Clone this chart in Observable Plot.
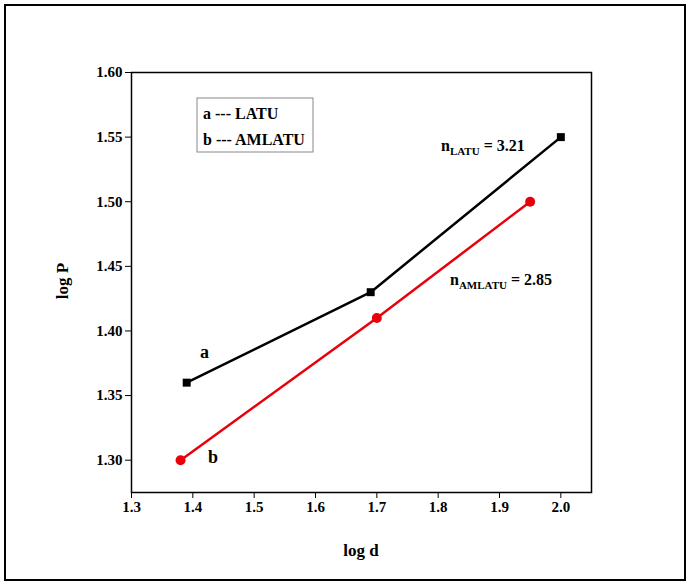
<!DOCTYPE html>
<html><head>
<script src="https://cdn.jsdelivr.net/npm/d3@7"></script>
<script src="https://cdn.jsdelivr.net/npm/@observablehq/plot@0.6"></script>
<style>body{margin:0;background:#fff}</style>
</head><body>
<div id="c"></div>
<script>
const logdA = [1.39, 1.69, 2.0];
const logPA = [1.36, 1.43, 1.55];
const logdB = [1.38, 1.70, 1.95];
const logPB = [1.30, 1.41, 1.50];
const xTicks = [1.3,1.4,1.5,1.6,1.7,1.8,1.9,2.0];
const yTicks = [1.30,1.35,1.40,1.45,1.50,1.55,1.60];

const A = logdA.map((d,i)=>({x:d,y:logPA[i]}));
const B = logdB.map((d,i)=>({x:d,y:logPB[i]}));
const font = "Liberation Serif";
const plot = Plot.plot({
  width:690, height:586,
  marginLeft:131, marginRight:99, marginTop:72, marginBottom:94,
  style:{fontFamily:font, fontSize:"15px", fontWeight:"bold", color:"#000"},
  x:{domain:[1.3,2.05], ticks:xTicks, tickFormat:d=>d.toFixed(1), label:null, tickSize:6},
  y:{domain:[1.275,1.60], ticks:yTicks, tickFormat:d=>d.toFixed(2), label:null, tickSize:6},
  marks:[
    Plot.frame({stroke:"#000", strokeWidth:1.5}),
    Plot.axisX({ticks:xTicks, tickFormat:d=>d.toFixed(1), label:null, tickSize:6}),
    Plot.axisY({ticks:yTicks, tickFormat:d=>d.toFixed(2), label:null, tickSize:6}),
    Plot.line(A,{x:"x",y:"y",stroke:"#000",strokeWidth:2.5}),
    Plot.dot(A,{x:"x",y:"y",symbol:"square",fill:"#000",r:4.5}),
    Plot.line(B,{x:"x",y:"y",stroke:"#e8000b",strokeWidth:2.5}),
    Plot.dot(B,{x:"x",y:"y",fill:"#e8000b",r:5})
  ]
});
const svg = d3.select(plot);
svg.append("rect").attr("x",5).attr("y",5).attr("width",680).attr("height",575)
  .attr("fill","none").attr("stroke","#000").attr("stroke-width",2);
const txt=(x,y,s,size=17)=>svg.append("text").attr("x",x).attr("y",y).attr("text-anchor","start")
  .attr("font-family",font).attr("font-weight","bold").attr("font-size",size).attr("fill","#000").text(s);
txt(361,556,"log d").attr("text-anchor","middle");
txt(0,0,"log P").attr("text-anchor","middle").attr("transform","translate(68,281) rotate(-90)");
svg.append("rect").attr("x",197).attr("y",98).attr("width",116).attr("height",54)
  .attr("fill","#fff").attr("stroke","#888").attr("stroke-width",1);
txt(203,119,"a --- LATU",16);
txt(203,145,"b --- AMLATU",16);
txt(200,358,"a",18);
txt(208,463,"b",18);
const sub=(x,y,main,subs,rest)=>{
  const t=txt(x,y,"",16);
  t.append("tspan").text(main);
  t.append("tspan").attr("font-size",11).attr("dy",4).text(subs);
  t.append("tspan").attr("dy",-4).text(rest);
};
sub(441,151,"n","LATU"," = 3.21");
sub(450,285,"n","AMLATU"," = 2.85");
document.getElementById("c").appendChild(plot);
</script>
</body></html>
